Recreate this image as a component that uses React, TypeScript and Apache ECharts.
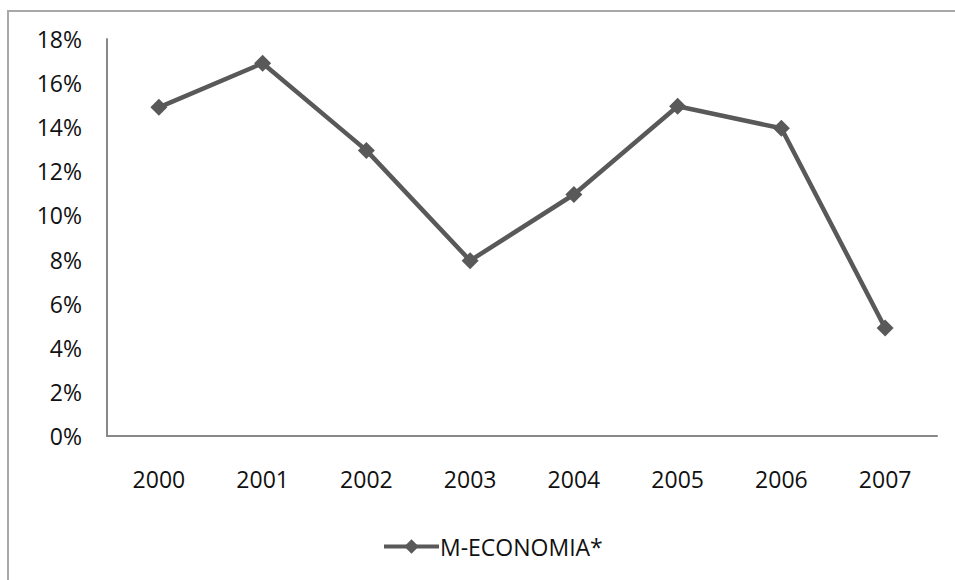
import React, { useEffect, useRef } from "react";
import * as echarts from "echarts";

const categories = ["2000", "2001", "2002", "2003", "2004", "2005", "2006", "2007"];
const seriesName = "M-ECONOMIA*";
const values = [14.9, 16.9, 12.95, 7.95, 10.95, 14.95, 13.95, 4.9];
const yTicks = { min: 0, max: 18, interval: 2 };

export default function App() {
  const ref = useRef<HTMLDivElement>(null);
  useEffect(() => {
    if (!ref.current) return;
    const chart = echarts.init(ref.current, undefined, { renderer: "svg" });
    const font = "'Open Sans', sans-serif";
    chart.setOption({
      animation: false,
      backgroundColor: "#ffffff",
      graphic: [
        {
          type: "rect",
          shape: { x: 8, y: 11, width: 1200, height: 1000 },
          style: { fill: "none", stroke: "#a8a8a8", lineWidth: 2 },
          silent: true,
        },
      ],
      grid: { left: 107, top: 39, width: 830, height: 397, containLabel: false },
      legend: {
        data: [seriesName],
        left: 377,
        top: 530,
        itemWidth: 55,
        itemHeight: 18,
        itemGap: 5,
        lineStyle: { width: 4, color: "#595959" },
        itemStyle: { color: "#595959" },
        textStyle: { fontFamily: font, fontSize: 23, color: "#111111", padding: [0, 0, 0, -4] },
      },
      xAxis: {
        type: "category",
        data: categories,
        boundaryGap: true,
        axisLine: { show: true, lineStyle: { color: "#888888", width: 2 } },
        axisTick: { show: false },
        axisLabel: { fontFamily: font, fontSize: 23, color: "#111111", margin: 31, fontWeight: 500 },
        splitLine: { show: false },
      },
      yAxis: {
        type: "value",
        min: yTicks.min,
        max: yTicks.max,
        interval: yTicks.interval,
        axisLine: { show: true, lineStyle: { color: "#888888", width: 2 } },
        axisTick: { show: false },
        axisLabel: {
          fontFamily: font,
          fontSize: 23,
          color: "#111111",
          margin: 25,
          fontWeight: 500,
          formatter: (v: number) => `${v}%`,
        },
        splitLine: { show: false },
      },
      series: [
        {
          name: seriesName,
          type: "line",
          data: values,
          symbol: "diamond",
          symbolSize: 17,
          lineStyle: { color: "#595959", width: 4.5 },
          itemStyle: { color: "#595959" },
        },
      ],
    });
    return () => chart.dispose();
  }, []);
  return (
    <div
      ref={ref}
      style={{ position: "fixed", left: 0, top: 0, width: 955, height: 580, background: "#fff" }}
    />
  );
}
